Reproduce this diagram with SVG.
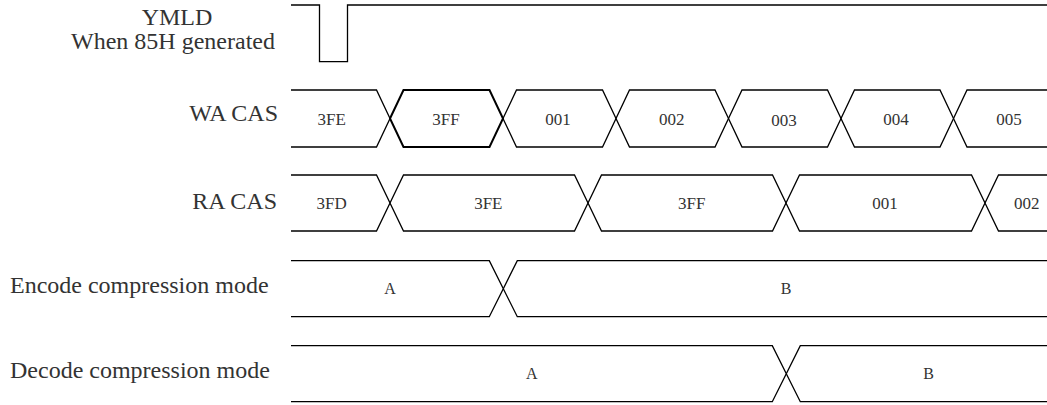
<svg xmlns="http://www.w3.org/2000/svg" width="1047" height="405" viewBox="0 0 1047 405">
<style>
.w{fill:none;stroke:#000;stroke-width:1.3;stroke-linejoin:miter}
.bold{stroke-width:2}
.lbl{font-family:"Liberation Serif","Times New Roman",serif;font-size:24px;fill:#333}
.v{font-family:"Liberation Serif","Times New Roman",serif;font-size:17px;fill:#333;text-anchor:middle}
.ab{font-family:"Liberation Serif","Times New Roman",serif;font-size:16px;fill:#333;text-anchor:middle}
</style>
<rect width="1047" height="405" fill="#fff"/>
<g id="ymld">
<text class="lbl" x="177" y="25" text-anchor="middle">YMLD</text>
<text class="lbl" x="173" y="48.5" text-anchor="middle">When 85H generated</text>
<path class="w" d="M291,5 H319.5 V61.7 H347.5 V5 H1047"/>
</g>
<g id="wa-cas">
<text class="lbl" x="278" y="121" text-anchor="end">WA CAS</text>
<path class="w" d="M291,90 H376.5 L390,118.5 L376.5,147 H291"/>
<path class="w bold" d="M390,118.5 L403.5,90 H489.5 L503,118.5 L489.5,147 H403.5 Z"/>
<path class="w" d="M503,118.5 L516.5,90 H602.5 L616,118.5 L602.5,147 H516.5 Z"/>
<path class="w" d="M616,118.5 L629.5,90 H715 L728.5,118.5 L715,147 H629.5 Z"/>
<path class="w" d="M728.5,118.5 L742,90 H827.5 L841,118.5 L827.5,147 H742 Z"/>
<path class="w" d="M841,118.5 L854.5,90 H940 L953.5,118.5 L940,147 H854.5 Z"/>
<path class="w" d="M953.5,118.5 L967,90 H1047 M953.5,118.5 L967,147 H1047"/>
<text class="v" x="331.7" y="124.5">3FE</text>
<text class="v" x="446" y="124.5">3FF</text>
<text class="v" x="558" y="124.5">001</text>
<text class="v" x="671.7" y="124.5">002</text>
<text class="v" x="784" y="125.5">003</text>
<text class="v" x="896" y="124.5">004</text>
<text class="v" x="1009" y="124.5">005</text>
</g>
<g id="ra-cas">
<text class="lbl" x="277" y="209" text-anchor="end">RA CAS</text>
<path class="w" d="M291,175 H376.5 L390,203 L376.5,231 H291"/>
<path class="w" d="M390,203 L403.5,175 H574.5 L588,203 L574.5,231 H403.5 Z"/>
<path class="w" d="M588,203 L601.5,175 H772.5 L786,203 L772.5,231 H601.5 Z"/>
<path class="w" d="M786,203 L799.5,175 H971.5 L985,203 L971.5,231 H799.5 Z"/>
<path class="w" d="M985,203 L998.5,175 H1047 M985,203 L998.5,231 H1047"/>
<text class="v" x="331.7" y="209">3FD</text>
<text class="v" x="488.3" y="209">3FE</text>
<text class="v" x="691.7" y="209">3FF</text>
<text class="v" x="885" y="209">001</text>
<text class="v" x="1026.7" y="209">002</text>
</g>
<g id="encode">
<text class="lbl" x="10" y="293">Encode compression mode</text>
<path class="w" d="M291,260.7 H489.3 L503.3,288.7 L489.3,316.7 H291"/>
<path class="w" d="M503.3,288.7 L517.3,260.7 H1047 M503.3,288.7 L517.3,316.7 H1047"/>
<text class="ab" x="390" y="294">A</text>
<text class="ab" x="786" y="294">B</text>
</g>
<g id="decode">
<text class="lbl" x="10" y="378">Decode compression mode</text>
<path class="w" d="M291,345.7 H772.3 L786.3,373.7 L772.3,401.7 H291"/>
<path class="w" d="M786.3,373.7 L800.3,345.7 H1047 M786.3,373.7 L800.3,401.7 H1047"/>
<text class="ab" x="531.7" y="379">A</text>
<text class="ab" x="928.5" y="379">B</text>
</g>
<g id="connectors"/>
</svg>
